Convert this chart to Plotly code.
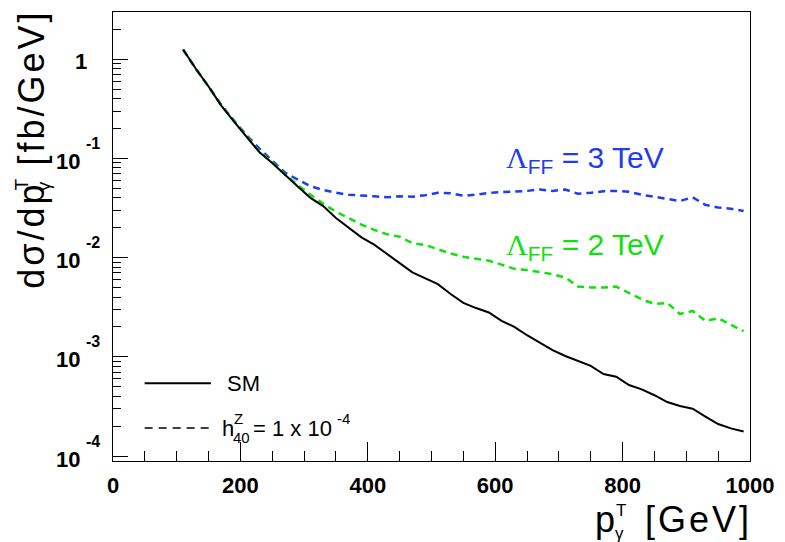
import math
import plotly.graph_objects as go

# ---------------- data ----------------
pt = [110, 130, 150, 170, 190, 210, 230, 250, 270, 290, 310, 330, 350, 370, 390,
      410, 430, 450, 470, 490, 510, 530, 550, 570, 590, 610, 630, 650, 670, 690,
      710, 730, 750, 770, 790, 810, 830, 850, 870, 890, 910, 930, 950, 970, 990]

sm = [1.25, 0.80, 0.53, 0.34, 0.235, 0.165, 0.115, 0.090, 0.068, 0.052, 0.040,
      0.033, 0.025, 0.020, 0.016, 0.0135, 0.0108, 0.0088, 0.0071, 0.0062, 0.0054,
      0.0043, 0.0035, 0.0031, 0.0028, 0.0023, 0.0020, 0.00165, 0.00140, 0.00117,
      0.00102, 0.00091, 0.00081, 0.00067, 0.00063, 0.00052, 0.00047, 0.00041,
      0.00035, 0.00032, 0.00030, 0.00025, 0.00021, 0.00019, 0.000177]

lam3 = [1.25, 0.80, 0.53, 0.345, 0.24, 0.17, 0.125, 0.095, 0.072, 0.061, 0.0525,
        0.048, 0.045, 0.043, 0.0425, 0.0415, 0.0405, 0.0415, 0.041, 0.0425, 0.045,
        0.0445, 0.042, 0.043, 0.045, 0.0455, 0.046, 0.047, 0.0486, 0.047, 0.0485,
        0.044, 0.045, 0.0465, 0.047, 0.046, 0.043, 0.041, 0.0397, 0.0372, 0.0405,
        0.034, 0.032, 0.031, 0.0295]

lam2 = [1.25, 0.80, 0.53, 0.342, 0.237, 0.167, 0.117, 0.091, 0.069, 0.054, 0.043,
        0.035, 0.029, 0.025, 0.0215, 0.019, 0.0172, 0.0162, 0.014, 0.0134, 0.0122,
        0.011, 0.0102, 0.0097, 0.0093, 0.0085, 0.0077, 0.0075, 0.0072, 0.0068,
        0.0063, 0.0051, 0.0050, 0.0050, 0.0051, 0.0044, 0.0038, 0.0034, 0.0035,
        0.0027, 0.0029, 0.0023, 0.00245, 0.0021, 0.00181]

x_ticks = [0, 200, 400, 600, 800, 1000]
y_ticks = [1e-4, 1e-3, 1e-2, 1e-1, 1]
y_exponents = ["-4", "-3", "-2", "-1", ""]

BLUE = "#1e3cf0"
GREEN = "#10e010"
FONT = "Liberation Sans, Arial, sans-serif"

# ---------------- figure ----------------
W, H = 785, 542
L, R, T, B = 113, 28, 11, 81
PW, PH = W - L - R, H - T - B


def px(xpix):
    return (xpix - L) / PW


def py(ypix):
    return (H - B - ypix) / PH


fig = go.Figure()
fig.add_trace(go.Scatter(x=pt, y=lam3, mode="lines", name="3 TeV",
                         line=dict(color=BLUE, width=2.5, dash="7px,5px")))
fig.add_trace(go.Scatter(x=pt, y=lam2, mode="lines", name="2 TeV",
                         line=dict(color=GREEN, width=2.5, dash="7px,5px")))
fig.add_trace(go.Scatter(x=pt, y=sm, mode="lines", name="SM",
                         line=dict(color="black", width=2)))

minor_y = [m * 10 ** e for e in range(-5, 1) for m in range(2, 10)]

fig.update_layout(
    width=W, height=H,
    margin=dict(l=L, r=R, t=T, b=B, pad=0),
    paper_bgcolor="white", plot_bgcolor="white",
    showlegend=False,
    font=dict(family=FONT, color="black"),
    xaxis=dict(range=[0, 1000], showgrid=False, zeroline=False,
               showline=True, linecolor="black", linewidth=1, mirror=True,
               ticks="inside", ticklen=19, tickwidth=1, tickcolor="black",
               tickvals=x_ticks, ticktext=[str(v) for v in x_ticks],
               tickfont=dict(family=FONT, size=22, color="black", weight="bold"),
               ticklabelstandoff=5,
               minor=dict(dtick=50, ticks="inside", ticklen=10, tickwidth=1,
                          tickcolor="black", showgrid=False)),
    yaxis=dict(type="log", range=[-4.05, 0.475], showgrid=False, zeroline=False,
               showline=True, linecolor="black", linewidth=1, mirror=True,
               ticks="inside", ticklen=15, tickwidth=1, tickcolor="black",
               tickvals=y_ticks, showticklabels=False,
               minor=dict(tickmode="array", tickvals=minor_y, ticks="inside",
                          ticklen=8, tickwidth=1, tickcolor="black", showgrid=False)),
)

ann = []


def text(x, y, s, size, xa="left", ya="middle", angle=0, color="black", fam=FONT,
         bold=False):
    ann.append(dict(x=x, y=y, xref="paper", yref="paper", text=s, showarrow=False,
                    xanchor=xa, yanchor=ya, textangle=angle,
                    font=dict(family=fam, size=size, color=color,
                              weight="bold" if bold else "normal")))


def spaced(s, sp):
    return "<span style='letter-spacing:%dpx'>%s</span>" % (sp, s)


# y tick labels (ROOT style: base + raised exponent); log axis -> log10 positions
for v, e in zip(y_ticks, y_exponents):
    lv = math.log10(v)
    if e:
        ann.append(dict(x=px(82), y=lv, xref="paper", yref="y", text="10",
                        showarrow=False, xanchor="right", yanchor="middle", yshift=-3,
                        font=dict(family=FONT, size=22, color="black", weight="bold")))
        ann.append(dict(x=px(84), y=lv, xref="paper", yref="y", text=e,
                        showarrow=False, xanchor="left", yanchor="middle", yshift=15,
                        font=dict(family=FONT, size=16, color="black", weight="bold")))
    else:
        ann.append(dict(x=px(89), y=lv, xref="paper", yref="y", text="1",
                        showarrow=False, xanchor="right", yanchor="middle", yshift=-2,
                        font=dict(family=FONT, size=22, color="black", weight="bold")))

# curve labels
lab = "<span style='font-family:Liberation Serif'>Λ</span><sub>FF</sub> = {} TeV"
text(px(508), py(159), lab.format(3), 30, color=BLUE)
text(px(508), py(246), lab.format(2), 30, color=GREEN)

# legend
text(px(226), py(383), "SM", 22)
text(px(221), py(428), "h", 22)
text(px(233), py(418), "Z", 15)
text(px(232), py(437), "40", 15)
text(px(253), py(428), "= 1 x 10", 22)
text(px(337), py(418), "-4", 15)

shapes = [
    dict(type="line", xref="paper", yref="paper", x0=px(145), x1=px(212),
         y0=py(383), y1=py(383), line=dict(color="black", width=2)),
    dict(type="line", xref="paper", yref="paper", x0=px(145), x1=px(212),
         y0=py(428), y1=py(428), line=dict(color="black", width=1.5, dash="8px,6px")),
]

# x-axis title  p_γ^T [GeV]
text(px(598), py(520), "p", 36)
text(px(620), py(511), "T", 17)
text(px(618), py(534), "γ", 17)
text(px(761), py(520), spaced("[GeV]", 3), 36, xa="right")

# y-axis title  dσ/dp_γ^T [fb/GeV]  (rotated)
text(px(31), py(290), spaced("dσ/dp", 3), 36, xa="center", ya="bottom", angle=-90)
text(px(21), py(184), "T", 19, xa="center", ya="middle", angle=-90)
text(px(43), py(186), "γ", 19, xa="center", ya="middle", angle=-90)
text(px(31), py(167), spaced("[fb/GeV]", 3), 36, xa="center", ya="bottom", angle=-90)

fig.update_layout(annotations=ann, shapes=shapes)

fig.write_html("out.html")
